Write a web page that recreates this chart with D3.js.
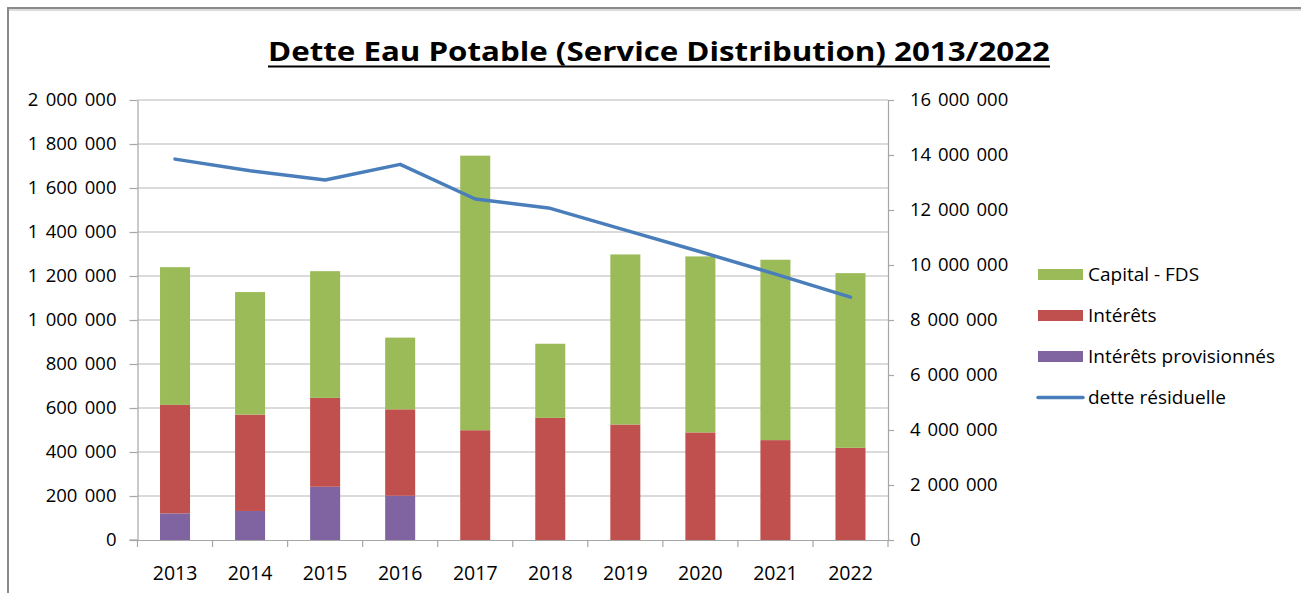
<!DOCTYPE html>
<html>
<head>
<meta charset="utf-8">
<script src="https://cdn.jsdelivr.net/npm/d3@7"></script>
<style>
  html, body { margin: 0; padding: 0; background: #fff; }
  svg { display: block; }
  text { font-family: "Open Sans", "DejaVu Sans", sans-serif; fill: #000; }
</style>
</head>
<body>
<svg id="chart" width="1301" height="593"></svg>
<script>
const years = ["2013","2014","2015","2016","2017","2018","2019","2020","2021","2022"];
const interetsProvisionnes = [121000, 132000, 242000, 201000, 0, 0, 0, 0, 0, 0];
const interets = [493000, 438000, 404000, 393000, 499000, 555000, 525000, 489000, 454000, 419000];
const capitalFDS = [626000, 557000, 576000, 326000, 1248000, 337000, 773000, 800000, 820000, 794000];
const detteResiduelle = [13850000, 13430000, 13090000, 13660000, 12400000, 12060000, 11270000, 10480000, 9670000, 8830000];
const leftTicks = [0, 200000, 400000, 600000, 800000, 1000000, 1200000, 1400000, 1600000, 1800000, 2000000];
const rightTicks = [0, 2000000, 4000000, 6000000, 8000000, 10000000, 12000000, 14000000, 16000000];
const seriesNames = ["Capital - FDS", "Intérêts", "Intérêts provisionnés", "dette résiduelle"];
const title = "Dette Eau Potable (Service Distribution) 2013/2022";

const colors = { capital: "#9BBB59", interets: "#C0504D", prov: "#8064A2", line: "#4A7EBB" };

const svg = d3.select("#chart");
const plot = { left: 137.5, right: 888, top: 100, bottom: 540 };

// frame
svg.append("rect").attr("x", 8).attr("y", 8).attr("width", 1310).attr("height", 600)
  .attr("fill", "none").attr("stroke", "#8a8a8a").attr("stroke-width", 2);
svg.append("line").attr("x1", 9).attr("x2", 1301).attr("y1", 10).attr("y2", 10)
  .attr("stroke", "#d0d0d0").attr("stroke-width", 1.5);

const x = d3.scaleBand().domain(years).range([plot.left, plot.right]).paddingInner(0.6).paddingOuter(0.3);
const xCat = d3.scaleBand().domain(years).range([plot.left, plot.right]).padding(0);
const yL = d3.scaleLinear().domain([0, 2000000]).range([plot.bottom, plot.top]);
const yR = d3.scaleLinear().domain([0, 16000000]).range([plot.bottom, plot.top]);

const fmt = v => d3.format(",")(v).replace(/,/g, " ");

// gridlines
svg.append("g").selectAll("line").data(leftTicks.filter(d => d > 0)).join("line")
  .attr("x1", plot.left).attr("x2", plot.right)
  .attr("y1", d => yL(d)).attr("y2", d => yL(d))
  .attr("stroke", "#b8b8b8").attr("stroke-width", 1.2);

// stacked bars
const stackData = years.map((y, i) => ({ year: y, prov: interetsProvisionnes[i], interets: interets[i], capital: capitalFDS[i] }));
const stack = d3.stack().keys(["prov", "interets", "capital"]);
const layers = stack(stackData);
svg.append("g").selectAll("g").data(layers).join("g")
  .attr("fill", d => colors[d.key])
  .selectAll("rect").data(d => d).join("rect")
  .attr("x", d => x(d.data.year))
  .attr("width", x.bandwidth())
  .attr("y", d => yL(d[1]))
  .attr("height", d => Math.max(0, yL(d[0]) - yL(d[1])));

// axes
const gL = svg.append("g").attr("transform", `translate(${plot.left},0)`)
  .call(d3.axisLeft(yL).tickValues(leftTicks).tickSize(8).tickSizeOuter(0).tickPadding(13).tickFormat(fmt));
const gR = svg.append("g").attr("transform", `translate(${plot.right},0)`)
  .call(d3.axisRight(yR).tickValues(rightTicks).tickSize(6).tickSizeOuter(0).tickPadding(16).tickFormat(fmt));
const gX = svg.append("g").attr("transform", `translate(0,${plot.bottom})`)
  .call(d3.axisBottom(xCat).tickSize(0).tickSizeOuter(0).tickPadding(26));
// x boundary ticks
gX.append("g").selectAll("line").data(years.concat(["end"])).join("line")
  .attr("x1", (d, i) => plot.left + i * xCat.step()).attr("x2", (d, i) => plot.left + i * xCat.step())
  .attr("y1", 0).attr("y2", 7).attr("stroke", "#a6a6a6").attr("stroke-width", 1.2);
gX.append("line").attr("x1", plot.left - 8).attr("x2", plot.left).attr("y1", 0).attr("y2", 0)
  .attr("stroke", "#a6a6a6").attr("stroke-width", 1.2);

[gL, gR, gX].forEach(g => {
  g.selectAll(".domain").attr("stroke", "#a6a6a6").attr("stroke-width", 1.2);
  g.selectAll(".tick line").attr("stroke", "#a6a6a6").attr("stroke-width", 1.2);
  g.selectAll("text").attr("font-family", "'Open Sans', sans-serif").attr("fill", "#000");
});
gL.selectAll("text").attr("font-size", 18.5).attr("word-spacing", 2.5);
gR.selectAll("text").attr("font-size", 18.5).attr("word-spacing", 2);
gX.selectAll("text").attr("font-size", 19.5);

// line
const line = d3.line().x((d, i) => x(years[i]) + x.bandwidth() / 2).y(d => yR(d));
svg.append("path").datum(detteResiduelle).attr("d", line)
  .attr("fill", "none").attr("stroke", colors.line).attr("stroke-width", 3.5)
  .attr("stroke-linejoin", "round").attr("stroke-linecap", "round");

// title
svg.append("text").attr("x", 659).attr("y", 61).attr("text-anchor", "middle")
  .attr("font-size", 27).attr("font-weight", "bold")
  .attr("textLength", 782).attr("lengthAdjust", "spacingAndGlyphs")
  .text(title);
svg.append("line").attr("x1", 268).attr("x2", 1050).attr("y1", 66.5).attr("y2", 66.5)
  .attr("stroke", "#000").attr("stroke-width", 2.2);

// legend
const legendColors = [colors.capital, colors.interets, colors.prov, colors.line];
const lg = svg.append("g");
const rowY = [274.5, 315.5, 356.5, 397.5];
seriesNames.forEach((name, i) => {
  if (i < 3) {
    lg.append("rect").attr("x", 1038).attr("y", rowY[i] - 5.5).attr("width", 45).attr("height", 11)
      .attr("fill", legendColors[i]);
  } else {
    lg.append("line").attr("x1", 1038).attr("x2", 1083).attr("y1", rowY[i]).attr("y2", rowY[i])
      .attr("stroke", legendColors[i]).attr("stroke-width", 3.5).attr("stroke-linecap", "round");
  }
  lg.append("text").attr("x", 1088).attr("y", rowY[i]).attr("dy", "0.35em")
    .attr("font-size", 19).text(name);
});
</script>
</body>
</html>
